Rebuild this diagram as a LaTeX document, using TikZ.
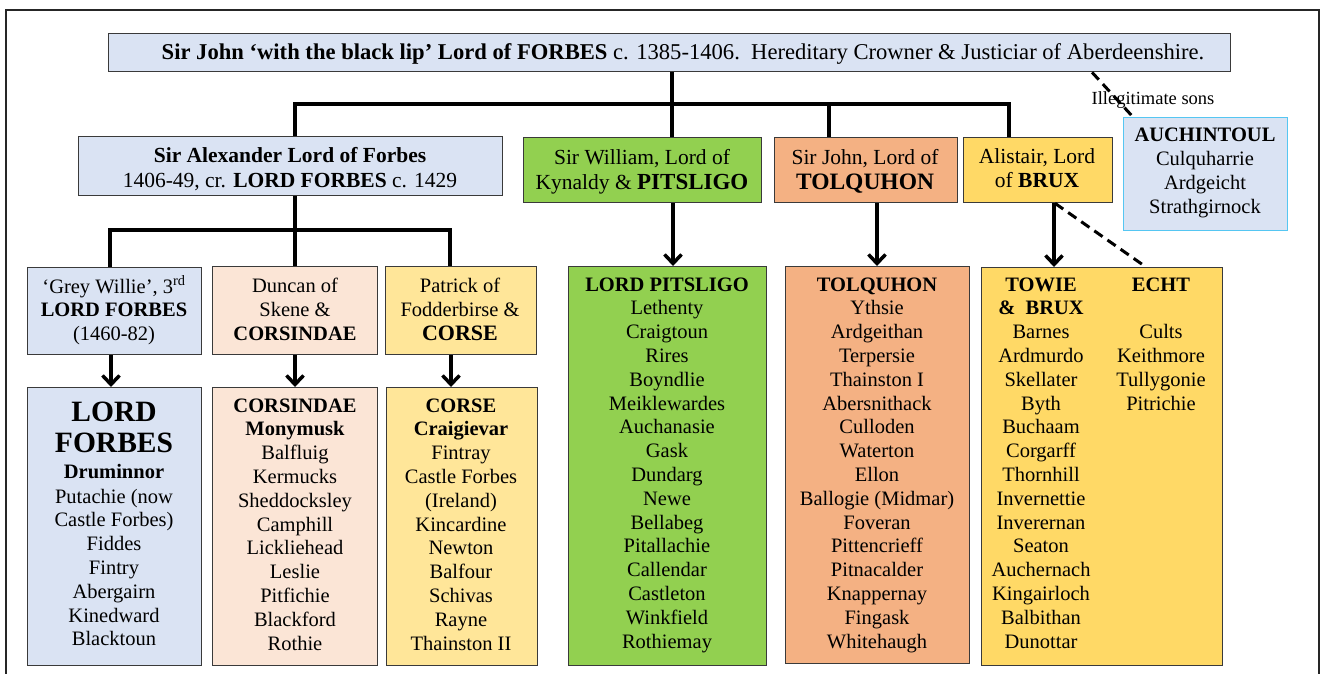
\documentclass[tikz,border=0pt]{standalone}
\usepackage{fontspec}
\setmainfont{Liberation Serif}
\usetikzlibrary{arrows.meta}
\definecolor{lblue}{HTML}{DAE3F3}
\definecolor{lgreen}{HTML}{92D050}
\definecolor{lorange}{HTML}{F4B183}
\definecolor{lgold}{HTML}{FFD966}
\definecolor{lpeach}{HTML}{FBE5D6}
\definecolor{lyellow}{HTML}{FFE699}
\definecolor{skyb}{HTML}{55C6F2}
\definecolor{bord}{HTML}{3A3A3A}
\newcommand\fa{\fontsize{20.5}{24}\selectfont}
\newcommand\fh{\fontsize{21.5}{25}\selectfont}
\newcommand\ftop{\fontsize{22.6}{26}\selectfont}
\newcommand\fs{\fontsize{18.5}{22}\selectfont}
\newcommand\fbig{\fontsize{29.5}{32}\selectfont}
\tikzset{
  box/.style={draw=bord, line width=1.3pt, rectangle, inner sep=0pt, anchor=north west},
  txt/.style={inner sep=0pt, anchor=base},
  conn/.style={line width=3.5pt, line join=miter, draw=black},
  arr/.style={line width=3.5pt, draw=black, -{Straight Barb[length=9pt,width=17pt]}},
  dsh/.style={line width=3pt, draw=black, dash pattern=on 10pt off 6pt},
  frame/.style={line width=1.8pt, draw=black!85},
}
% name, fill, x1, y1, x2, y2
\newcommand\bx[6]{\node[box, fill=#2, minimum width=#5pt-#3pt, minimum height=#6pt-#4pt] (#1) at (#3,#4) {};}
% name, x, first baseline, spacing, font, list
\newcommand\col[6]{\foreach \t [count=\i from 0] in {#6} \node[txt, font=#5] (#1-\i) at (#2,#3+#4*\i) {\t};}
\begin{document}
\begin{tikzpicture}[x=1pt,y=-1pt]
\useasboundingbox (0,0) rectangle (1321,673);
\draw[frame] (6,690) -- (6,10) -- (1319,10) -- (1319,690);

% boxes
\bx{top}{lblue}{108}{33}{1230}{71}
\bx{alex}{lblue}{78}{136}{502}{195}
\bx{will}{lgreen}{523}{137}{761}{202}
\bx{john}{lorange}{774}{137}{957}{202}
\bx{alis}{lgold}{963}{137}{1112}{202}
\node[box, draw=skyb, fill=lblue, minimum width=164pt, minimum height=113pt] (auch) at (1123,117) {};
\bx{grey}{lblue}{27}{267}{201}{354}
\bx{dunc}{lpeach}{212}{266}{377}{354}
\bx{patr}{lyellow}{385}{266}{536}{354}
\bx{lf}{lblue}{27}{387}{201}{665}
\bx{cors}{lpeach}{212}{387}{377}{665}
\bx{corse}{lyellow}{386}{387}{537}{665}
\bx{pits}{lgreen}{568}{266}{766}{665}
\bx{tolq}{lorange}{785}{266}{969}{663}
\bx{towie}{lgold}{981}{267}{1222}{665}

% coordinates of the bars
\coordinate (b1) at (295,104);
\coordinate (b2) at (672,104);
\coordinate (b3) at (829,104);
\coordinate (b4) at (1009,104);
\coordinate (c1) at (110,230);
\coordinate (c2) at (295,230);
\coordinate (c3) at (450,230);

% connectors
\draw[conn] (alex.north -| b1) -- (b1) -- (b4) -- (alis.north -| b4);
\draw[conn] (top.south -| b2) -- (will.north -| b2);
\draw[conn] (b3) -- (john.north -| b3);
\draw[conn] (grey.north -| c1) -- (c1) -- (c3) -- (patr.north -| c3);
\draw[conn] (alex.south -| c2) -- (dunc.north -| c2);

\draw[arr] (grey.south -| 111,0) -- (lf.north -| 111,0);
\draw[arr] (dunc.south -| 295,0) -- (cors.north -| 295,0);
\draw[arr] (patr.south -| 451,0) -- (corse.north -| 451,0);
\draw[arr] (will.south -| 673,0) -- (pits.north -| 673,0);
\draw[arr] (john.south -| 877,0) -- (tolq.north -| 877,0);
\draw[arr] (alis.south -| 1054,0) -- (towie.north -| 1054,0);

% illegitimate
\node[txt, font=\fs] (illeg) at (1153,104) {Illegitimate sons};
\draw[dsh] (top.south -| 1092,0) -- (auch.north -| 1133,0);
\draw[dsh] (alis.south -| 1055,0) -- (towie.north -| 1146,0);

% texts
\node[txt, font=\ftop] (toptxt) at (683,59) {{\bfseries Sir John ‘with the black lip’ Lord of FORBES} c. 1385-1406.\ \ Hereditary Crowner \& Justiciar of Aberdeenshire.};
\col{alext}{290}{162}{25}{\fh}{{\bfseries Sir Alexander Lord of Forbes}, {1406-49, cr. {\bfseries LORD FORBES} c. 1429}}
\col{willt}{642}{164}{25}{\fh}{{Sir William, Lord of}, {Kynaldy \& {\fontsize{23}{25}\selectfont\bfseries PITSLIGO}}}
\col{johnt}{865}{164}{25}{\fh}{{Sir John, Lord of}, {{\fontsize{23.5}{25}\selectfont\bfseries TOLQUHON}}}
\col{alist}{1037}{163}{24}{\fh}{{Alistair, Lord}, {of {\bfseries BRUX}}}
\col{aucht}{1205}{141}{24}{\fa}{{\bfseries AUCHINTOUL}, Culquharrie, Ardgeicht, Strathgirnock}
\col{greyt}{114}{293}{23.5}{\fa}{{‘Grey Willie’, 3\textsuperscript{rd}}, {\bfseries LORD FORBES}, (1460-82)}
\col{dunct}{295}{292}{24}{\fa}{Duncan of, Skene \&, {\bfseries CORSINDAE}}
\col{patrt}{460}{292}{24}{\fa}{Patrick of, Fodderbirse \&, {\fontsize{22}{24}\selectfont\bfseries CORSE}}

\col{lfbig}{114}{421}{31}{\fbig}{{\bfseries LORD}, {\bfseries FORBES}}
\col{lft}{114}{478}{23.8}{\fa}{{\bfseries Druminnor}}
\col{lfl}{114}{503}{23.8}{\fa}{Putachie (now, Castle Forbes), Fiddes, Fintry, Abergairn, Kinedward, Blacktoun}
\col{corst}{295}{412}{23.8}{\fa}{{\bfseries CORSINDAE}, {\bfseries Monymusk}, Balfluig, Kermucks, Sheddocksley, Camphill, Lickliehead, Leslie, Pitfichie, Blackford, Rothie}
\col{corset}{461}{412}{23.8}{\fa}{{\bfseries CORSE}, {\bfseries Craigievar}, Fintray, Castle Forbes, (Ireland), Kincardine, Newton, Balfour, Schivas, Rayne, Thainston II}
\col{pitst}{667}{291}{23.8}{\fa}{{\bfseries LORD PITSLIGO}, Lethenty, Craigtoun, Rires, Boyndlie, Meiklewardes, Auchanasie, Gask, Dundarg, Newe, Bellabeg, Pitallachie, Callendar, Castleton, Winkfield, Rothiemay}
\col{tolqt}{877}{291}{23.8}{\fa}{{\bfseries TOLQUHON}, Ythsie, Ardgeithan, Terpersie, Thainston I, Abersnithack, Culloden, Waterton, Ellon, {Ballogie (Midmar)}, Foveran, Pittencrieff, Pitnacalder, Knappernay, Fingask, Whitehaugh}
\col{towt}{1041}{291}{23.8}{\fa}{{\bfseries TOWIE}, {\bfseries \&\ \ BRUX}, Barnes, Ardmurdo, Skellater, Byth, Buchaam, Corgarff, Thornhill, Invernettie, Inverernan, Seaton, Auchernach, Kingairloch, Balbithan, Dunottar}
\col{echt}{1161}{291}{23.8}{\fa}{{\bfseries ECHT}, {}, Cults, Keithmore, Tullygonie, Pitrichie}
\end{tikzpicture}
\end{document}
